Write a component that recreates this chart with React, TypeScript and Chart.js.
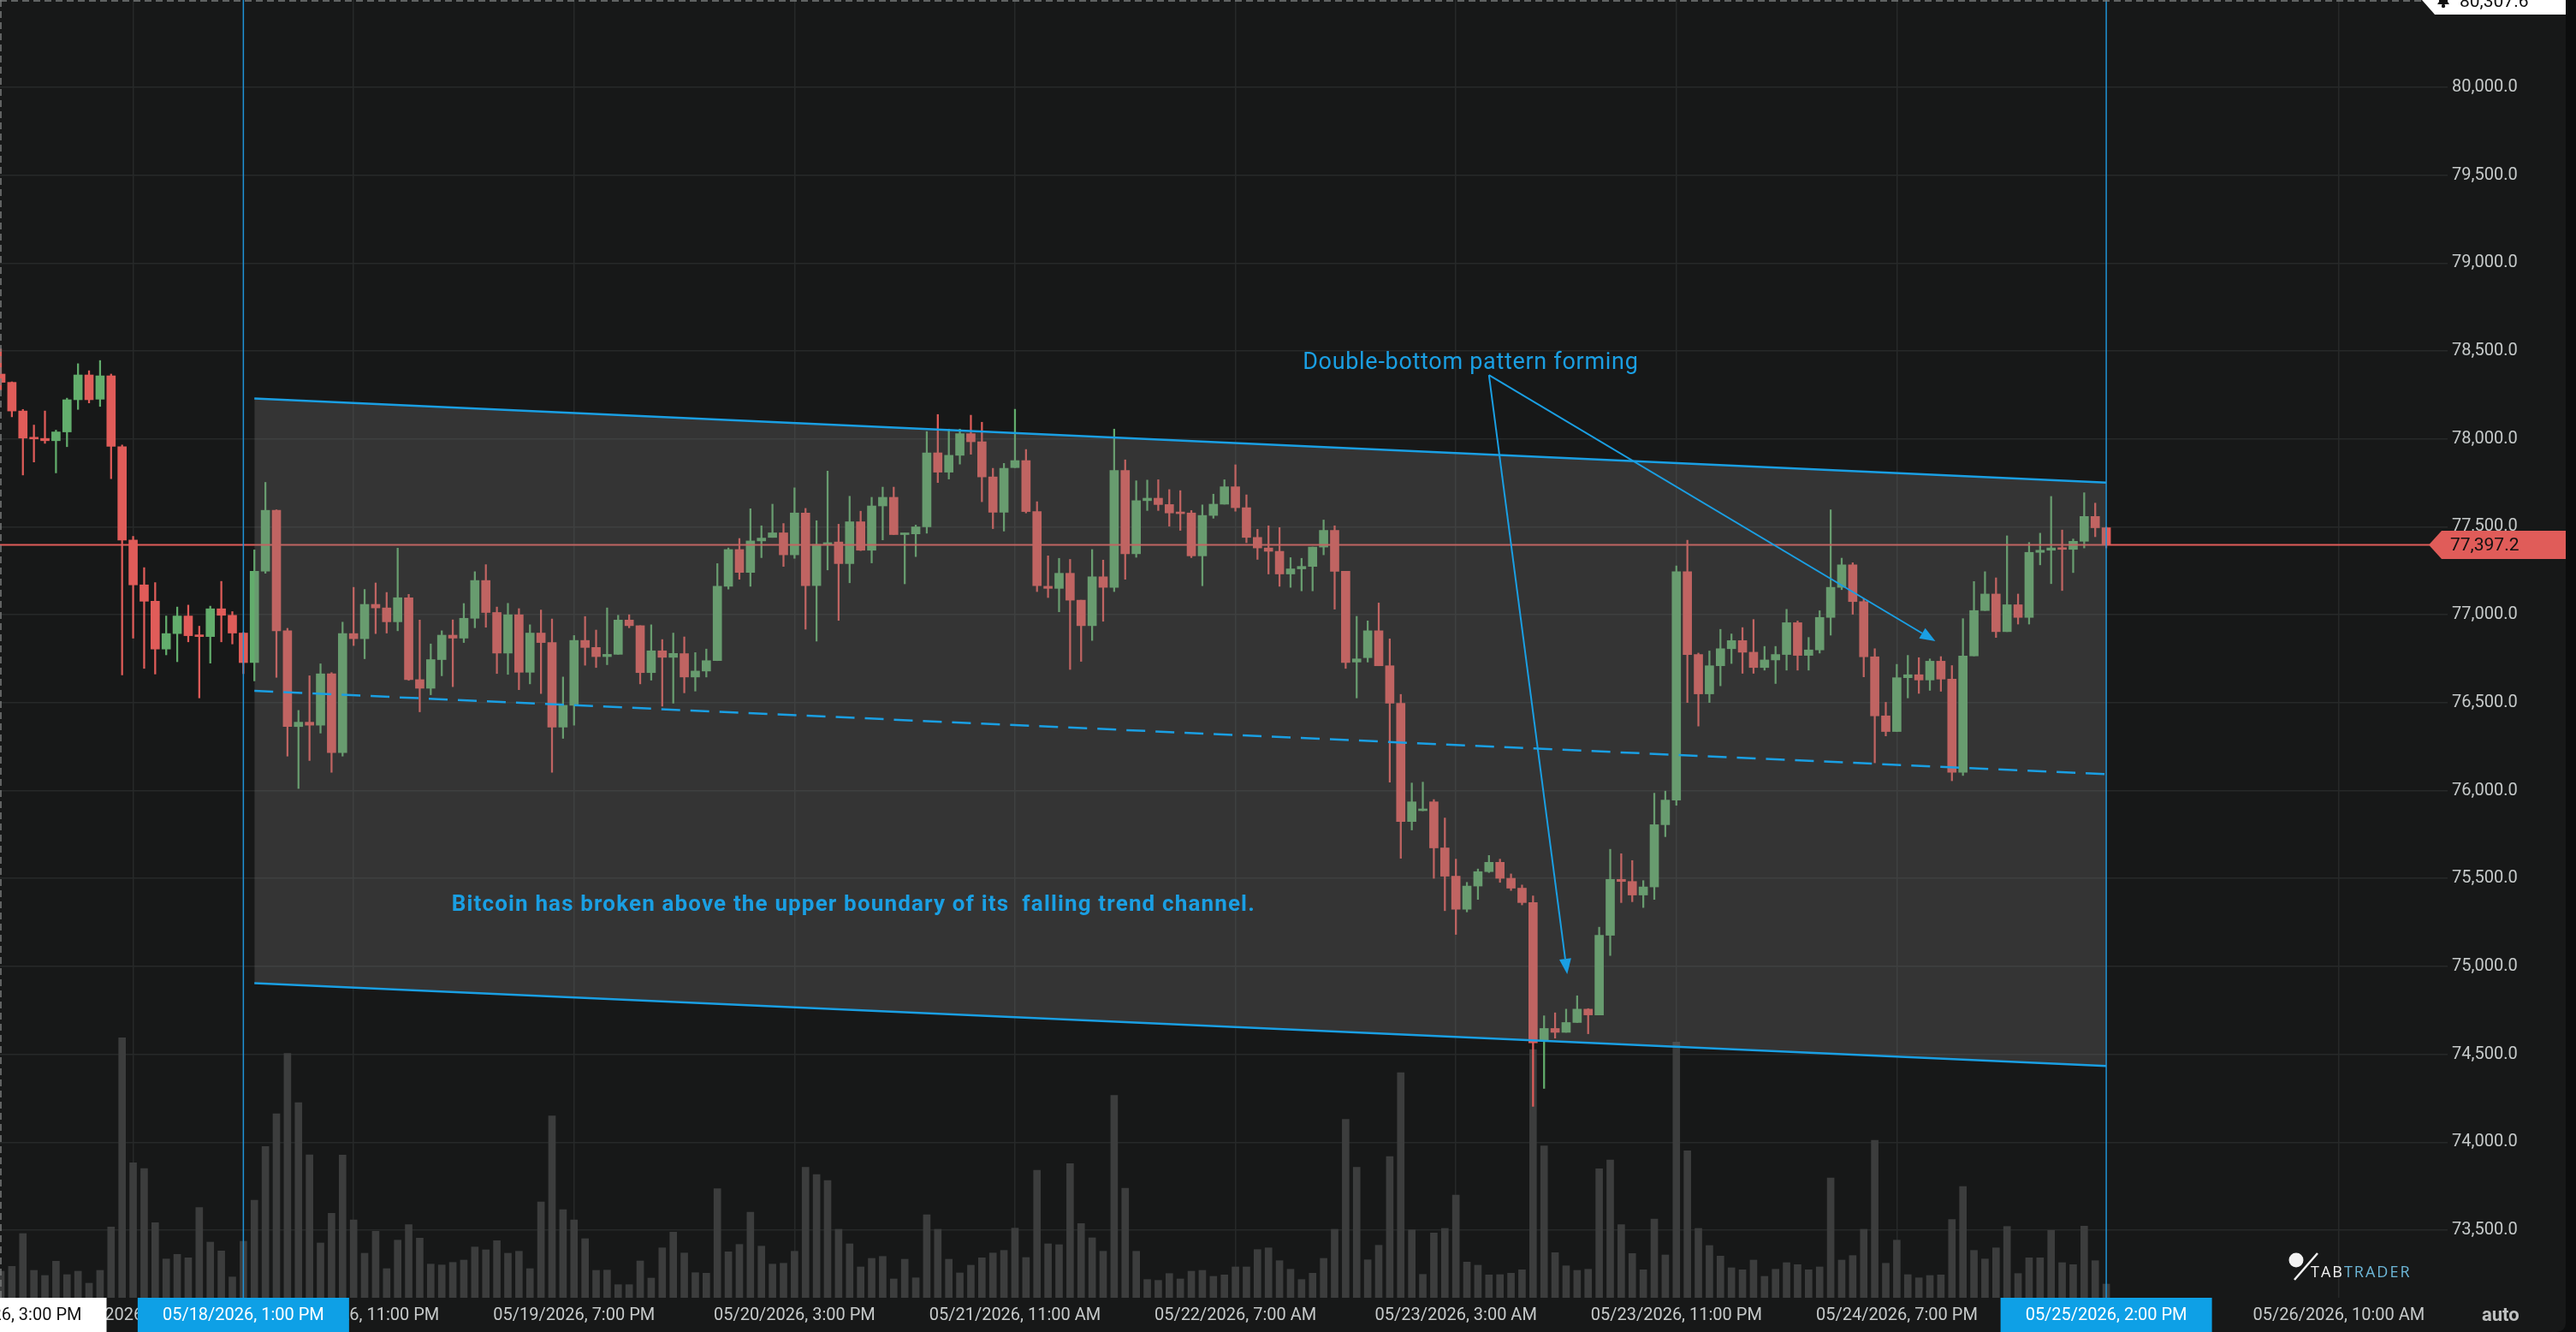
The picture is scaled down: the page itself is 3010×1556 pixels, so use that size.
import React, { useEffect, useRef } from 'react';
import { Chart, registerables } from 'chart.js';

Chart.register(...registerables);

// ---- Hourly BTC candles (index 0 = 05/17/2026 3:00 PM) ----
const opens = [
  78369, 78322, 78159, 78005, 78003, 77990, 78040, 78223, 78364, 78226,
  78359, 77956, 77425, 77170, 77077, 76805, 76893, 76993, 76881, 76876,
  77034, 76997, 76896, 76728, 77248, 77594, 76909, 76364, 76389, 76372,
  76664, 76216, 76893, 76864, 77059, 77039, 76960, 77097, 76631, 76582,
  76745, 76884, 76867, 76980, 77195, 77013, 76782, 77000, 76673, 76896,
  76842, 76361, 76485, 76854, 76814, 76762, 76775, 76970, 76938, 76671,
  76795, 76758, 76779, 76646, 76680, 76739, 77162, 77371, 77241, 77420,
  77440, 77466, 77341, 77579, 77166, 77400, 77414, 77291, 77529, 77367,
  77619, 77668, 77456, 77460, 77500, 77921, 77811, 77907, 78030, 77984,
  77784, 77583, 77837, 77877, 77587, 77162, 77150, 77236, 77083, 76938,
  77216, 77156, 77821, 77347, 77649, 77663, 77627, 77579, 77579, 77335,
  77565, 77629, 77728, 77609, 77440, 77380, 77361, 77232, 77261, 77275,
  77385, 77480, 77247, 76731, 76756, 76909, 76710, 76497, 75824, 75886,
  75936, 75674, 75513, 75325, 75457, 75539, 75592, 75501, 75445, 75363,
  74579, 74647, 74625, 74681, 74757, 74724, 75177, 75495, 75483, 75406,
  75452, 75806, 75946, 77245, 76774, 76550, 76710, 76807, 76853, 76787,
  76700, 76743, 76774, 76955, 76769, 76800, 76985, 77156, 77284, 77075,
  76761, 76425, 76336, 76642, 76659, 76629, 76736, 76634, 76104, 76766,
  77024, 77118, 76904, 77057, 76985, 77355, 77367, 77380, 77372, 77418,
  77559, 77495,
];
const highs = [
  78512, 78325, 78168, 78079, 78159, 78050, 78232, 78428, 78388, 78446,
  78369, 77966, 77446, 77268, 77183, 76993, 77044, 77055, 76935, 77049,
  77190, 77018, 76900, 77369, 77753, 77597, 76923, 76456, 76653, 76721,
  76671, 76958, 77156, 77144, 77181, 77127, 77379, 77116, 76970, 76834,
  76909, 76971, 77064, 77245, 77285, 77044, 77065, 77035, 76943, 77027,
  76976, 76646, 76882, 76990, 76913, 77039, 76997, 77000, 76938, 76943,
  76859, 76896, 76874, 76785, 76805, 77291, 77380, 77434, 77603, 77506,
  77629, 77519, 77722, 77605, 77535, 77817, 77515, 77674, 77589, 77668,
  77726, 77726, 77464, 77510, 78042, 78139, 78056, 78056, 78135, 78095,
  77833, 77861, 78169, 77940, 77643, 77335, 77321, 77315, 77083, 77371,
  77311, 78056, 77881, 77762, 77766, 77768, 77712, 77706, 77593, 77625,
  77686, 77768, 77853, 77682, 77486, 77506, 77496, 77325, 77321, 77385,
  77539, 77506, 77247, 76991, 76965, 77067, 76863, 76547, 76043, 76048,
  75949, 75844, 75610, 75478, 75554, 75631, 75610, 75526, 75463, 75401,
  74719, 74736, 74757, 74833, 74760, 75223, 75666, 75641, 75602, 75488,
  75985, 75997, 77278, 77424, 76782, 76794, 76917, 76891, 76927, 76973,
  76820, 76820, 77031, 76965, 76871, 77023, 77597, 77322, 77296, 77092,
  76807, 76502, 76718, 76769, 76756, 76749, 76762, 76711, 76978, 77189,
  77245, 77210, 77449, 77118, 77411, 77464, 77673, 77482, 77431, 77694,
  77635, 77500,
];
const lows = [
  78277, 78126, 77795, 77869, 77975, 77807, 77956, 78168, 78205, 78185,
  77774, 76658, 76867, 76695, 76663, 76772, 76733, 76846, 76527, 76725,
  76846, 76834, 76665, 76624, 77236, 76644, 76196, 76012, 76171, 76327,
  76104, 76196, 76825, 76750, 76893, 76896, 76909, 76627, 76448, 76545,
  76653, 76591, 76842, 76926, 76929, 76666, 76661, 76574, 76607, 76552,
  76104, 76297, 76372, 76713, 76700, 76716, 76775, 76926, 76607, 76628,
  76480, 76497, 76556, 76566, 76646, 76739, 77146, 77202, 77162, 77325,
  77440, 77275, 77321, 76918, 76850, 77255, 76968, 77182, 77365, 77295,
  77426, 77456, 77176, 77331, 77464, 77752, 77772, 77857, 77913, 77643,
  77490, 77476, 77837, 77579, 77132, 77098, 77017, 76689, 76735, 76854,
  76963, 77132, 77202, 77327, 77593, 77593, 77504, 77480, 77325, 77165,
  77549, 77629, 77589, 77410, 77315, 77232, 77162, 77156, 77136, 77136,
  77341, 77032, 76695, 76527, 76731, 76710, 76048, 75615, 75776, 75885,
  75501, 75317, 75182, 75310, 75381, 75534, 75478, 75432, 75350, 74204,
  74306, 74592, 74625, 74681, 74617, 74724, 75062, 75363, 75368, 75335,
  75381, 75738, 75916, 76501, 76367, 76501, 76596, 76723, 76667, 76667,
  76685, 76609, 76685, 76685, 76685, 76782, 76884, 77143, 77003, 76647,
  76158, 76311, 76336, 76527, 76553, 76570, 76565, 76056, 76086, 76766,
  77024, 76871, 76904, 76947, 76947, 77284, 77177, 77138, 77240, 77380,
  77444, 77380,
];
const closes = [
  78322, 78159, 78005, 78000, 77990, 78040, 78223, 78364, 78223, 78359,
  77958, 77425, 77170, 77077, 76805, 76893, 76993, 76881, 76876, 77034,
  76997, 76896, 76728, 77248, 77594, 76909, 76364, 76389, 76372, 76664,
  76216, 76893, 76864, 77059, 77039, 76960, 77097, 76631, 76582, 76745,
  76884, 76867, 76980, 77195, 77013, 76782, 77000, 76673, 76896, 76842,
  76361, 76485, 76854, 76814, 76762, 76775, 76970, 76938, 76671, 76795,
  76758, 76780, 76646, 76680, 76739, 77162, 77371, 77241, 77420, 77436,
  77466, 77341, 77579, 77166, 77400, 77410, 77291, 77529, 77367, 77619,
  77668, 77456, 77460, 77500, 77921, 77811, 77907, 78030, 77984, 77784,
  77583, 77833, 77877, 77587, 77166, 77150, 77236, 77083, 76938, 77216,
  77156, 77821, 77347, 77649, 77663, 77627, 77579, 77575, 77335, 77565,
  77629, 77728, 77609, 77440, 77380, 77361, 77232, 77261, 77275, 77385,
  77480, 77247, 76728, 76749, 76909, 76710, 76497, 75824, 75936, 75893,
  75674, 75513, 75325, 75457, 75539, 75592, 75501, 75445, 75363, 74566,
  74647, 74625, 74681, 74757, 74724, 75177, 75495, 75483, 75406, 75452,
  75806, 75946, 77245, 76774, 76550, 76710, 76807, 76853, 76787, 76700,
  76743, 76774, 76955, 76769, 76800, 76985, 77156, 77284, 77075, 76761,
  76425, 76336, 76642, 76659, 76629, 76736, 76634, 76104, 76766, 77024,
  77118, 76904, 77057, 76985, 77355, 77367, 77380, 77372, 77418, 77559,
  77495, 77397.2,
];
const volumes = [
  310, 367, 750, 320, 260, 427, 270, 310, 170, 320,
  827, 3037, 1577, 1510, 877, 453, 507, 467, 1053, 650,
  547, 243, 660, 1140, 1767, 2150, 2853, 2280, 1670, 640,
  987, 1667, 910, 520, 777, 340, 673, 853, 697, 393,
  383, 413, 440, 593, 560, 667, 520, 543, 340, 1120,
  2123, 1030, 910, 690, 320, 323, 153, 153, 430, 230,
  583, 767, 523, 293, 287, 1273, 537, 623, 1000, 603,
  393, 403, 543, 1523, 1440, 1370, 800, 630, 360, 460,
  483, 220, 450, 233, 970, 800, 450, 290, 380, 467,
  523, 553, 813, 470, 1490, 630, 620, 1567, 867, 700,
  543, 2363, 1280, 543, 213, 203, 283, 220, 310, 320,
  250, 267, 360, 360, 563, 583, 433, 333, 213, 287,
  460, 800, 2083, 1523, 443, 613, 1650, 2630, 793, 273,
  757, 810, 1200, 417, 380, 267, 270, 287, 327, 2900,
  1773, 527, 373, 320, 333, 1507, 1610, 853, 517, 327,
  920, 500, 2987, 1717, 810, 610, 487, 350, 327, 440,
  250, 333, 410, 387, 327, 360, 1400, 440, 493, 800,
  1840, 403, 673, 270, 233, 260, 267, 913, 1300, 553,
  453, 583, 833, 283, 467, 467, 787, 410, 387, 837,
  433, 160,
];

// ---- Axis ticks ----
const xTickIdx = [12, 32, 52, 72, 92, 112, 132, 152, 172, 212.1];
const xTickLabels = [
  '05/18/2026, 3:00 AM', '05/18/2026, 11:00 PM', '05/19/2026, 7:00 PM', '05/20/2026, 3:00 PM',
  '05/21/2026, 11:00 AM', '05/22/2026, 7:00 AM', '05/23/2026, 3:00 AM', '05/23/2026, 11:00 PM',
  '05/24/2026, 7:00 PM', '05/26/2026, 10:00 AM',
];
const yTicks = [73500, 74000, 74500, 75000, 75500, 76000, 76500, 77000, 77500, 78000, 78500, 79000, 79500, 80000];

// ---- Markers / overlays ----
const markerIdx = [22, 191];
const markerLabels = ['05/18/2026, 1:00 PM', '05/25/2026, 2:00 PM'];
const crossIdx = 0;
const crossLabel = '05/17/2026, 3:00 PM';
const alertPrice = 80307.6;
const lastPrice = 77397.2;

const channelX = [23, 191];
const channelUpper = [78230, 77752];
const channelLower = [74905, 74434];
const channelMid = [76567.5, 76093];

const noteTexts = ['Double-bottom pattern forming', 'Bitcoin has broken above the upper boundary of its  falling trend channel.'];
const noteX = [118.1, 40.9];
const noteY = [78400, 75314];
const arrowFrom = [135.0, 78363];
const arrowToX = [142.1, 175.5];
const arrowToY = [74956, 76850];

const X_MIN = -0.0776;
const X_MAX = 221.97;
const Y_MIN = 73115.4;
const Y_MAX = 80496.6;
const VOL_MAX = 15160;

const UP = '#62ad6c';
const DOWN = '#e05c59';
const BLUE = '#1a9fe3';
const GRID = '#272929';
const TEXT = '#c6caca';

function fmtPrice(v: number) {
  return v.toLocaleString('en-US', { minimumFractionDigits: 1, maximumFractionDigits: 1 });
}

function drawArrow(ctx: CanvasRenderingContext2D, x0: number, y0: number, x1: number, y1: number) {
  const ang = Math.atan2(y1 - y0, x1 - x0);
  const L = 18, w = 7;
  const bx = x1 - L * Math.cos(ang), by = y1 - L * Math.sin(ang);
  ctx.beginPath();
  ctx.moveTo(x0, y0);
  ctx.lineTo(bx, by);
  ctx.stroke();
  ctx.beginPath();
  ctx.moveTo(x1, y1);
  ctx.lineTo(bx + w * Math.sin(ang), by - w * Math.cos(ang));
  ctx.lineTo(bx - w * Math.sin(ang), by + w * Math.cos(ang));
  ctx.closePath();
  ctx.fill();
}

const decoPlugin = {
  id: 'deco',
  beforeDraw(chart: any) {
    const { ctx, width, height } = chart;
    ctx.save();
    ctx.fillStyle = '#0c0d0d';
    ctx.fillRect(0, 0, width, height);
    ctx.fillStyle = '#171818';
    ctx.beginPath();
    ctx.roundRect(0, 0, width - 12, height, [0, 0, 10, 0]);
    ctx.fill();
    ctx.restore();
  },
  afterDatasetsDraw(chart: any) {
    const { ctx, chartArea: a, scales } = chart;
    const x = scales.x, y = scales.y;
    ctx.save();
    // crosshair (dashed)
    ctx.strokeStyle = '#7a7c7c';
    ctx.lineWidth = 1.5;
    ctx.setLineDash([8, 5]);
    const cx = x.getPixelForValue(crossIdx);
    ctx.beginPath();
    ctx.moveTo(cx, a.top);
    ctx.lineTo(cx, a.bottom);
    ctx.stroke();
    ctx.beginPath();
    ctx.moveTo(a.left, a.top + 1);
    ctx.lineTo(a.right - 30, a.top + 1);
    ctx.stroke();
    ctx.setLineDash([]);

    // arrows
    ctx.strokeStyle = BLUE;
    ctx.fillStyle = BLUE;
    ctx.lineWidth = 2;
    const fx = x.getPixelForValue(arrowFrom[0]);
    const fy = y.getPixelForValue(arrowFrom[1]);
    for (let k = 0; k < arrowToX.length; k++) {
      drawArrow(ctx, fx, fy, x.getPixelForValue(arrowToX[k]), y.getPixelForValue(arrowToY[k]));
    }

    // notes
    ctx.textAlign = 'left';
    ctx.textBaseline = 'alphabetic';
    ctx.font = '27px Roboto';
    (ctx as any).letterSpacing = '0.7px';
    ctx.fillText(noteTexts[0], x.getPixelForValue(noteX[0]), y.getPixelForValue(noteY[0]));
    ctx.font = 'bold 26px Roboto';
    (ctx as any).letterSpacing = '1.15px';
    ctx.fillText(noteTexts[1], x.getPixelForValue(noteX[1]), y.getPixelForValue(noteY[1]));
    (ctx as any).letterSpacing = '0px';
    ctx.restore();
  },
  afterDraw(chart: any) {
    const { ctx, chartArea: a, scales, width } = chart;
    const x = scales.x, y = scales.y;
    const panelRight = width - 12;
    ctx.save();

    // x badges
    const badge = (px: number, text: string, bg: string, fg: string) => {
      const w = 247;
      ctx.fillStyle = bg;
      ctx.fillRect(px - w / 2, a.bottom, w, 40);
      ctx.fillStyle = fg;
      ctx.font = '20px Roboto';
      ctx.textAlign = 'center';
      ctx.textBaseline = 'middle';
      ctx.fillText(text, px, a.bottom + 21);
    };
    badge(x.getPixelForValue(crossIdx), crossLabel, '#ffffff', '#111111');
    for (let k = 0; k < markerIdx.length; k++) {
      badge(x.getPixelForValue(markerIdx[k]), markerLabels[k], '#0ea0e6', '#ffffff');
    }

    // last price label
    const tipX = a.right - 22;
    const py = y.getPixelForValue(lastPrice);
    ctx.fillStyle = DOWN;
    ctx.beginPath();
    ctx.moveTo(tipX, py);
    ctx.lineTo(tipX + 15, py - 16.5);
    ctx.lineTo(panelRight, py - 16.5);
    ctx.lineTo(panelRight, py + 16.5);
    ctx.lineTo(tipX + 15, py + 16.5);
    ctx.closePath();
    ctx.fill();
    ctx.fillStyle = '#111111';
    ctx.font = '21px Roboto';
    ctx.textAlign = 'left';
    ctx.textBaseline = 'middle';
    ctx.fillText(fmtPrice(lastPrice), tipX + 25, py + 1);

    // alert label (clamped to the top edge)
    const ay = a.top;
    const aTip = a.right - 30;
    ctx.fillStyle = '#ffffff';
    ctx.beginPath();
    ctx.moveTo(aTip, ay);
    ctx.lineTo(aTip + 15, ay + 17);
    ctx.lineTo(panelRight, ay + 17);
    ctx.lineTo(panelRight, ay - 17);
    ctx.lineTo(aTip + 15, ay - 17);
    ctx.closePath();
    ctx.fill();
    ctx.fillStyle = '#111111';
    const bx = aTip + 25, by = ay + 3;
    ctx.beginPath();
    ctx.moveTo(bx - 7, by + 2);
    ctx.lineTo(bx + 7, by + 2);
    ctx.lineTo(bx + 5, by - 1);
    ctx.lineTo(bx + 5, by - 8);
    ctx.arc(bx, by - 8, 5, 0, Math.PI, true);
    ctx.lineTo(bx - 5, by - 1);
    ctx.closePath();
    ctx.fill();
    ctx.beginPath();
    ctx.arc(bx, by + 4, 2.2, 0, Math.PI * 2);
    ctx.fill();
    ctx.font = '21px Roboto';
    ctx.textAlign = 'left';
    ctx.textBaseline = 'alphabetic';
    ctx.fillText(fmtPrice(alertPrice), aTip + 44, ay + 7.5);

    // logo
    const lx = a.right - 177, ly = a.bottom - 44;
    ctx.fillStyle = '#f2f2f2';
    ctx.beginPath();
    ctx.arc(lx, ly, 8.5, 0, Math.PI * 2);
    ctx.fill();
    ctx.strokeStyle = '#f2f2f2';
    ctx.lineWidth = 2.5;
    ctx.beginPath();
    ctx.moveTo(lx - 2, ly + 23);
    ctx.lineTo(lx + 25, ly - 8);
    ctx.stroke();
    ctx.font = '500 18px "Open Sans"';
    (ctx as any).letterSpacing = '2px';
    ctx.textBaseline = 'alphabetic';
    ctx.fillText('TAB', lx + 17, ly + 20);
    const tabW = ctx.measureText('TAB').width;
    ctx.fillStyle = '#6db7d8';
    ctx.fillText('TRADER', lx + 17 + tabW, ly + 20);
    (ctx as any).letterSpacing = '0px';

    // "auto"
    ctx.fillStyle = '#bfc1c1';
    ctx.font = 'bold 22px Roboto';
    ctx.textAlign = 'left';
    ctx.fillText('auto', a.right + 40, a.bottom + 27);
    ctx.restore();
  },
};

export default function App() {
  const ref = useRef<HTMLCanvasElement>(null);
  useEffect(() => {
    document.body.style.margin = '0';
    const canvas = ref.current;
    if (!canvas) return;
    const idx = opens.map((_, i) => i);
    const colors = idx.map((i) => (closes[i] >= opens[i] ? UP : DOWN));
    const line = (data: any[], extra: any) => ({
      type: 'line',
      data,
      pointRadius: 0,
      tension: 0,
      fill: false,
      borderWidth: 2.5,
      borderColor: BLUE,
      ...extra,
    });
    const chart = new Chart(canvas, {
      type: 'bar',
      data: {
        datasets: [
          {
            type: 'bar', label: 'Volume', yAxisID: 'vol', order: 50, grouped: false,
            data: idx.map((i) => ({ x: i, y: volumes[i] })),
            backgroundColor: '#3c3d3d', barThickness: 8,
          },
          {
            type: 'bar', label: 'Wick', order: 40, grouped: false,
            data: idx.map((i) => ({ x: i, y: [lows[i], highs[i]] })),
            backgroundColor: colors, barThickness: 1.6,
          },
          {
            type: 'bar', label: 'Body', order: 39, grouped: false, minBarLength: 2,
            data: idx.map((i) => ({ x: i, y: [opens[i], closes[i]] })),
            backgroundColor: colors, barThickness: 10,
          },
          line([{ x: X_MIN, y: lastPrice }, { x: X_MAX, y: lastPrice }], { label: 'Last', borderColor: DOWN, borderWidth: 2, order: 15 }),
          line(channelX.map((v, k) => ({ x: v, y: channelUpper[k] })), { label: 'Upper', order: 10, fill: '+1', backgroundColor: 'rgba(120,120,120,0.3)' }),
          line(channelX.map((v, k) => ({ x: v, y: channelLower[k] })), { label: 'Lower', order: 8 }),
          line(channelX.map((v, k) => ({ x: v, y: channelMid[k] })), { label: 'Mid', order: 8, borderDash: [22, 12] }),
          ...markerIdx.map((m) =>
            line([{ x: m, y: Y_MIN }, { x: m, y: Y_MAX }], { label: 'Marker', order: 5, borderWidth: 1.5, borderColor: '#1f93d6' })
          ),
        ] as any,
      },
      options: {
        animation: false,
        responsive: false,
        maintainAspectRatio: false,
        devicePixelRatio: 1,
        events: [],
        layout: { padding: { left: 0, right: 12, top: 0, bottom: 0 } },
        plugins: { legend: { display: false }, tooltip: { enabled: false } },
        scales: {
          x: {
            type: 'linear', min: X_MIN, max: X_MAX, offset: false,
            grid: { color: GRID, lineWidth: 1.5, drawTicks: false, offset: false },
            border: { display: false },
            ticks: {
              autoSkip: false, maxRotation: 0, minRotation: 0, padding: 9, color: TEXT,
              font: { family: 'Roboto', size: 20 },
              callback: (_v: any, i: number) => xTickLabels[i] ?? '',
            },
            afterBuildTicks: (s: any) => { s.ticks = xTickIdx.map((v) => ({ value: v })); },
            afterFit: (s: any) => { s.height = 40; s.paddingLeft = 0; s.paddingRight = 0; },
          },
          y: {
            type: 'linear', position: 'right', min: Y_MIN, max: Y_MAX,
            grid: { color: GRID, lineWidth: 1.5, drawTicks: false },
            border: { display: false },
            ticks: {
              padding: 5, color: TEXT, font: { family: 'Roboto', size: 20 },
              callback: (v: any) => fmtPrice(Number(v)),
            },
            afterBuildTicks: (s: any) => { s.ticks = yTicks.map((v) => ({ value: v })); },
            afterFit: (s: any) => { s.width = 138; s.paddingTop = 0; s.paddingBottom = 0; },
          },
          vol: { type: 'linear', display: false, min: 0, max: VOL_MAX },
        },
      } as any,
      plugins: [decoPlugin],
    });
    return () => chart.destroy();
  }, []);
  return (
    <div style={{ width: 3010, height: 1556 }}>
      <canvas ref={ref} width={3010} height={1556} style={{ display: 'block' }} />
    </div>
  );
}
